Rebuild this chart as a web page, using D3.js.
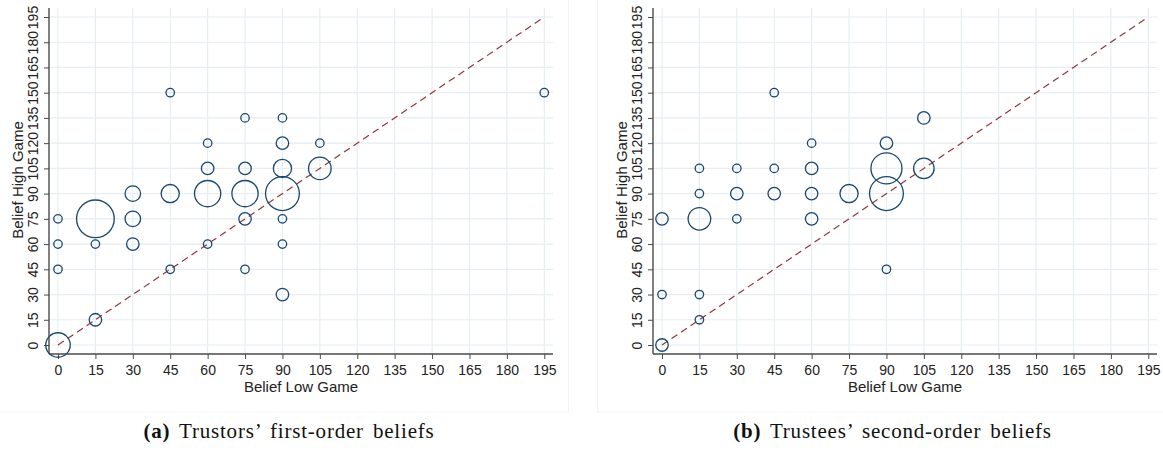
<!DOCTYPE html>
<html>
<head>
<meta charset="utf-8">
<script src="https://cdn.jsdelivr.net/npm/d3@7"></script>
<style>
  html, body { margin: 0; padding: 0; background: #fff; }
  svg { display: block; }
</style>
</head>
<body>
<svg id="chart" width="1163" height="456"></svg>
<script>
// ---------- data ----------
const tickValues = [0, 15, 30, 45, 60, 75, 90, 105, 120, 135, 150, 165, 180, 195];

// Panel (a): Trustors' first-order beliefs
const aLow  = [0, 0, 0, 0, 15, 15, 15, 30, 30, 30, 45, 45, 45, 60, 60, 60, 60, 75, 75, 75, 75, 75, 90, 90, 90, 90, 90, 90, 90, 105, 105, 195];
const aHigh = [0, 45, 60, 75, 15, 60, 75, 60, 75, 90, 45, 90, 150, 60, 90, 105, 120, 45, 75, 90, 105, 135, 30, 60, 75, 90, 105, 120, 135, 105, 120, 150];
const aCount= [7, 1, 1, 1, 2, 1, 16, 2, 3, 3, 1, 4, 1, 1, 8, 2, 1, 1, 2, 8, 2, 1, 2, 1, 1, 13, 4, 2, 1, 6, 1, 1];

// Panel (b): Trustees' second-order beliefs
const bLow  = [0, 0, 0, 15, 15, 15, 15, 15, 30, 30, 30, 45, 45, 45, 60, 60, 60, 60, 75, 90, 90, 90, 90, 105, 105];
const bHigh = [0, 30, 75, 15, 30, 75, 90, 105, 75, 90, 105, 90, 105, 150, 75, 90, 105, 120, 90, 45, 90, 105, 120, 105, 135];
const bCount= [2, 1, 2, 1, 1, 6, 1, 1, 1, 2, 1, 2, 1, 1, 2, 2, 2, 1, 4, 1, 13, 11, 2, 5, 2];

const captionLabels = ["(a)", "(b)"];
const captionTexts = [" Trustors\u2019 first-order beliefs", " Trustees\u2019 second-order beliefs"];
const xTitle = "Belief Low Game";
const yTitle = "Belief High Game";

// ---------- drawing ----------
const svg = d3.select("#chart");
const NAVY = "#1a476f", MAROON = "#90353b", GRID = "#e6eef1", AXIS = "#4a4a4a";
const FONT = "'Liberation Sans', Arial, sans-serif";

const rScale = d3.scaleSqrt().domain([0, 16]).range([0, 19.5]);

const panels = [
  { low: aLow, high: aHigh, count: aCount, ox: 0, capX: 289 },
  { low: bLow, high: bHigh, count: bCount, ox: 604, capX: 892.5 }
];

// faint graph-region borders
svg.append("rect").attr("x", -1).attr("y", -1).attr("width", 569.5).attr("height", 413)
  .attr("fill", "none").attr("stroke", "#f1f4f6").attr("stroke-width", 1);
svg.append("rect").attr("x", 597.5).attr("y", -1).attr("width", 580).attr("height", 413)
  .attr("fill", "none").attr("stroke", "#f1f4f6").attr("stroke-width", 1);

panels.forEach((p, i) => {
  const ox = p.ox;
  const axisX = 49 + ox, rightX = 553 + ox, topY = 8, axisY = 354;
  const x = d3.scaleLinear().domain([0, 195]).range([58 + ox, 544.3 + ox]);
  const y = d3.scaleLinear().domain([0, 195]).range([345, 17]);
  const g = svg.append("g");

  // gridlines
  g.append("g").selectAll("line").data(tickValues).join("line")
    .attr("x1", axisX).attr("x2", rightX)
    .attr("y1", d => y(d)).attr("y2", d => y(d))
    .attr("stroke", GRID).attr("stroke-width", 1.2);
  g.append("g").selectAll("line").data(tickValues).join("line")
    .attr("x1", d => x(d)).attr("x2", d => x(d))
    .attr("y1", topY).attr("y2", axisY)
    .attr("stroke", GRID).attr("stroke-width", 1.2);

  // x axis
  const xAxis = g.append("g").attr("transform", `translate(0,${axisY})`)
    .call(d3.axisBottom(x).tickValues(tickValues).tickSize(5).tickPadding(4).tickFormat(d3.format("d")));
  xAxis.select(".domain").attr("d", `M${axisX},0H${rightX}`).attr("stroke", AXIS).attr("stroke-width", 1.4);
  xAxis.selectAll(".tick line").attr("stroke", AXIS).attr("stroke-width", 1);
  xAxis.selectAll(".tick text").attr("font-family", FONT).attr("font-size", 14).attr("fill", "#222")
    .attr("y", 8).attr("dy", "0.9em");

  // y axis
  const yAxis = g.append("g").attr("transform", `translate(${axisX},0)`)
    .call(d3.axisLeft(y).tickValues(tickValues).tickSize(5).tickFormat(d3.format("d")));
  yAxis.select(".domain").attr("d", `M0,${topY}V${axisY}`).attr("stroke", AXIS).attr("stroke-width", 1.4);
  yAxis.selectAll(".tick line").attr("stroke", AXIS).attr("stroke-width", 1);
  yAxis.selectAll(".tick text")
    .attr("font-family", FONT).attr("font-size", 14).attr("fill", "#222")
    .attr("x", null).attr("dy", null)
    .attr("text-anchor", "middle")
    .attr("transform", "translate(-11.5,0) rotate(-90)");

  // 45-degree line
  g.append("line")
    .attr("x1", x(0)).attr("y1", y(0)).attr("x2", x(195)).attr("y2", y(195))
    .attr("stroke", MAROON).attr("stroke-width", 1.2).attr("stroke-dasharray", "7,4.5");

  // bubbles
  const pts = p.low.map((v, k) => ({ lo: v, hi: p.high[k], n: p.count[k] }));
  g.append("g").selectAll("circle").data(pts).join("circle")
    .attr("cx", d => x(d.lo)).attr("cy", d => y(d.hi))
    .attr("r", d => rScale(d.n) - 0.65)
    .attr("fill", "none").attr("stroke", NAVY).attr("stroke-width", 1.3);

  // axis titles
  g.append("text").attr("x", (axisX + rightX) / 2).attr("y", 391.5)
    .attr("text-anchor", "middle").attr("font-family", FONT).attr("font-size", 15).attr("fill", "#222")
    .text(xTitle);
  g.append("text").attr("transform", `translate(${22.5 + ox},180) rotate(-90)`)
    .attr("text-anchor", "middle").attr("font-family", FONT).attr("font-size", 15).attr("fill", "#222")
    .text(yTitle);

  // caption
  const cap = svg.append("text").attr("x", p.capX).attr("y", 438)
    .attr("text-anchor", "middle").attr("font-family", "'Liberation Serif', 'DejaVu Serif', serif")
    .attr("font-size", 21).attr("fill", "#111")
    .attr("letter-spacing", 0.8).attr("word-spacing", 3);
  cap.append("tspan").attr("font-weight", "bold").text(captionLabels[i]);
  cap.append("tspan").text(captionTexts[i]);
});
</script>
</body>
</html>
